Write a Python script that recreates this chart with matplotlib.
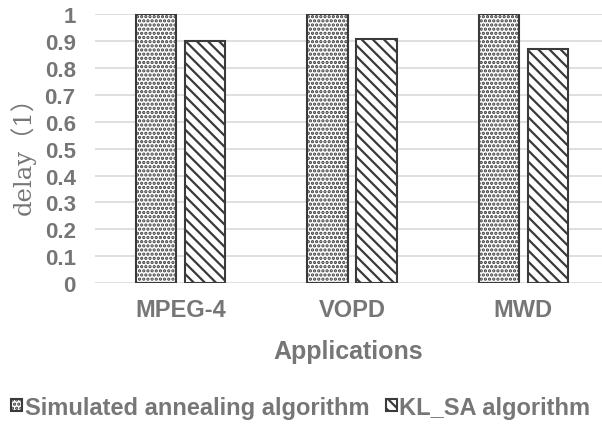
import numpy as np
import matplotlib
matplotlib.use("Agg")
import matplotlib.pyplot as plt

apps = ["MPEG-4", "VOPD", "MWD"]
sa_delay = [1.0, 1.0, 1.0]
klsa_delay = [0.90, 0.907, 0.87]
series_names = ["Simulated annealing algorithm", "KL_SA algorithm"]
yticks = [0, 0.1, 0.2, 0.3, 0.4, 0.5, 0.6, 0.7, 0.8, 0.9, 1]
ytick_labels = ["0", "0.1", "0.2", "0.3", "0.4", "0.5", "0.6", "0.7", "0.8", "0.9", "1"]

grey = "#767676"
edge = "#3a3a3a"
plt.rcParams["font.family"] = ["Liberation Sans", "DejaVu Sans"]
plt.rcParams["hatch.linewidth"] = 1.6

fig = plt.figure(figsize=(6.02, 4.35), dpi=100)
ax = fig.add_axes([0.158, 0.347, 0.842, 0.618])

x = np.arange(len(apps))
w = 0.234
off = 0.143
ax.bar(x - off, sa_delay, w, facecolor="white", edgecolor=edge, linewidth=1.5,
       hatch="....", label=series_names[0], zorder=3)
ax.bar(x + off, klsa_delay, w, facecolor="white", edgecolor=edge, linewidth=1.5,
       hatch="\\\\\\", label=series_names[1], zorder=3)

ax.set_xlim(-0.5, 2.46)
ax.set_ylim(0, 1)
ax.set_yticks(yticks)
ax.set_yticklabels(ytick_labels)
ax.set_xticks(x)
ax.set_xticklabels(apps)
ax.yaxis.grid(True, color="#d9d9d9", linewidth=1.2, zorder=0)
for s in ax.spines.values():
    s.set_visible(False)
ax.tick_params(length=0)
ax.tick_params(axis="y", pad=14)
ax.tick_params(axis="x", pad=11)
for t in ax.get_yticklabels():
    t.set_fontsize(16)
    t.set_fontweight("bold")
    t.set_color(grey)
for t in ax.get_xticklabels():
    t.set_fontsize(17)
    t.set_fontweight("bold")
    t.set_color(grey)

ax.set_ylabel("delay（1）", fontsize=17.5, color=grey,
              family=["DejaVu Serif", "Noto Sans CJK SC"], labelpad=6)
ax.set_xlabel("Applications", fontsize=18, fontweight="bold", color=grey, labelpad=13)

leg = fig.legend(loc="center", bbox_to_anchor=(0.5, 0.062), ncol=2, frameon=False,
                 prop={"size": 17, "weight": "bold"}, handlelength=0.45, handleheight=0.45,
                 handletextpad=0.12, columnspacing=0.7)
for t in leg.get_texts():
    t.set_color(grey)

fig.savefig("out.png", dpi=100)
